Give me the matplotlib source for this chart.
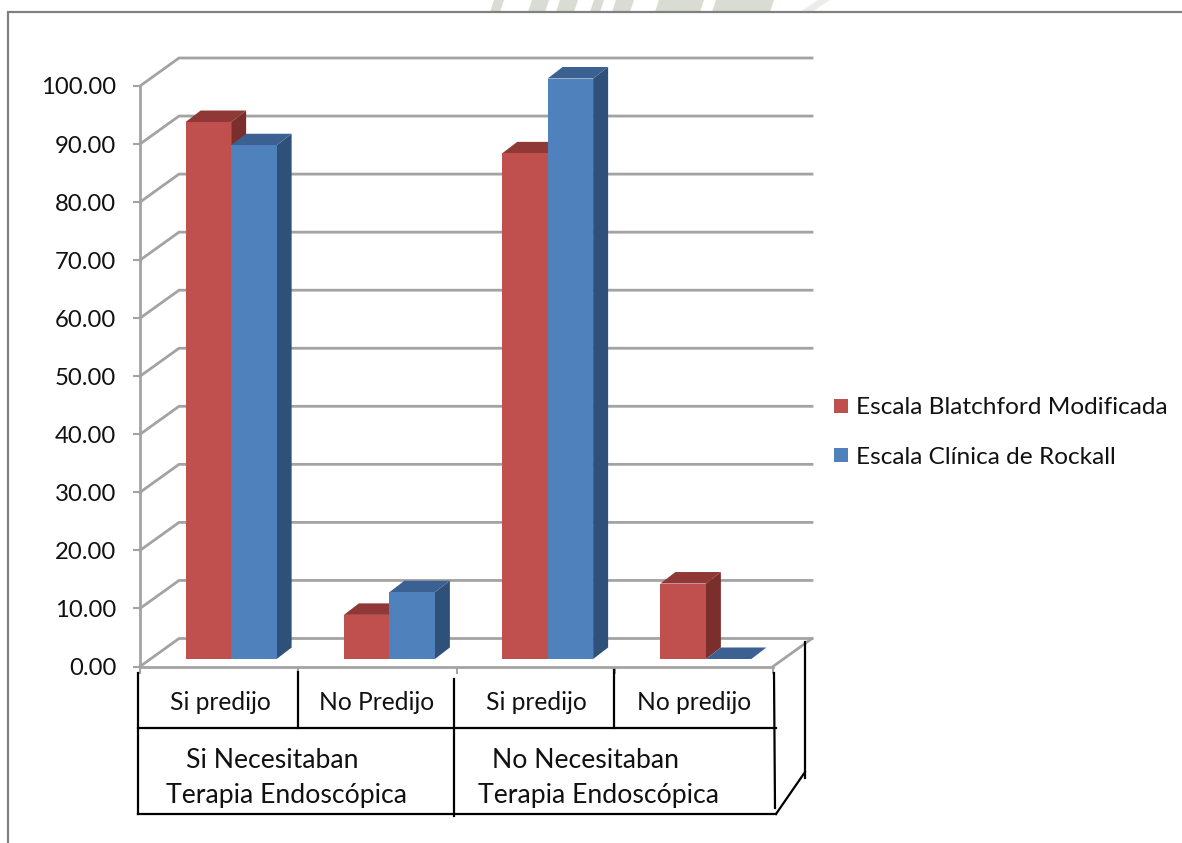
import matplotlib
matplotlib.use("Agg")
import matplotlib.pyplot as plt
from matplotlib.ticker import FormatStrFormatter

plt.rcParams["font.family"] = ["Lato", "DejaVu Sans"]

sub_labels = ["Si predijo", "No Predijo", "Si predijo", "No predijo"]
group_labels = ["Si Necesitaban\nTerapia Endoscópica", "No Necesitaban\nTerapia Endoscópica"]
series_names = ["Escala Blatchford Modificada", "Escala Clínica de Rockall"]
blatchford = [92.5, 7.6, 87.1, 13.0]
rockall = [88.5, 11.5, 100.0, 0.0]
y_ticks = [0, 10, 20, 30, 40, 50, 60, 70, 80, 90, 100]

W, H = 1182, 843
GREY = "#a3a3a3"
front = ["#c0504d", "#4f81bd"]
top = ["#8f3836", "#3a6191"]
side = ["#7b2f2d", "#2f5078"]

fig = plt.figure(figsize=(W / 100, H / 100), dpi=100)

# main axes = front plane of the 3d box
L, R, Y0, Y100 = 140, 773, 666.5, 86
ax = fig.add_axes([L / W, 1 - Y0 / H, (R - L) / W, (Y0 - Y100) / H])
ax.set_xlim(0, 4)
ax.set_ylim(0, 100)
ax.patch.set_alpha(0)

px = 4 / (R - L)
py = 100 / (Y0 - Y100)

# back wall
back_x = 39 * px
back_y = 28 * py
for v in y_ticks:
    ax.plot([0, back_x, 4 + back_x], [v, v + back_y, v + back_y], color=GREY, lw=2, zorder=1,
            clip_on=False, solid_joinstyle="miter")
ax.plot([4, 4 + back_x], [0, back_y], color=GREY, lw=2, zorder=1, clip_on=False)

# bars
bar_w = 45.5 * px
off_x = 12 * px
off_y = 7.5 * py
dx = 15 * px
dy = 11.5 * py
for s, values in enumerate([blatchford, rockall]):
    for i, v in enumerate(values):
        x0 = i + 0.5 + off_x + (s - 1) * bar_w
        x1 = x0 + bar_w
        b = off_y
        t = off_y + v
        ax.fill([x1, x1 + dx, x1 + dx, x1], [b, b + dy, t + dy, t], color=side[s], lw=0, zorder=3 + s,
                clip_on=False)
        ax.fill([x0, x1, x1 + dx, x0 + dx], [t, t, t + dy, t + dy], color=top[s], lw=0, zorder=3 + s,
                clip_on=False)
        ax.bar(x0, v, width=bar_w, bottom=b, align="edge", color=front[s], lw=0, zorder=3 + s,
               clip_on=False)

for name in ["top", "right"]:
    ax.spines[name].set_visible(False)
for name in ["left", "bottom"]:
    ax.spines[name].set_color(GREY)
    ax.spines[name].set_linewidth(2)
    ax.spines[name].set_zorder(2)

ax.set_yticks(y_ticks)
ax.yaxis.set_major_formatter(FormatStrFormatter("%.2f"))
ax.tick_params(axis="y", length=5, width=1.5, color=GREY, labelsize=17.2, pad=12, labelcolor="#111111")
ax.set_xticks([0, 1, 2, 3, 4])
ax.set_xticklabels([])
ax.tick_params(axis="x", length=5, width=1.5, color=GREY)

# overlay in pixels for the hand drawn table and the outer frame
ov = fig.add_axes([0, 0, 1, 1])
ov.set_xlim(0, W)
ov.set_ylim(H, 0)
ov.axis("off")
ov.patch.set_alpha(0)

# bit of the page watermark above the frame
for a, b in [(490, 500), (528, 545), (556, 574), (590, 600), (612, 630), (655, 700), (712, 770)]:
    ov.fill([a, b, b + 4, a + 4], [12, 12, 0, 0], color="#d8dcd2", lw=0)
ov.fill([800, 812, 830, 818], [12, 12, 0, 0], color="#ececea", lw=0)

ov.plot([8, 8, W], [H, 12, 12], color="#808080", lw=1.6, solid_joinstyle="miter")

table_lines = [
    ([138, 138], [673, 814]),
    ([138, 776], [814, 814]),
    ([138, 776], [728, 728]),
    ([298, 298], [672, 728]),
    ([454, 454], [679, 816]),
    ([614, 614], [670, 728]),
    ([774, 775], [673, 808]),
    ([776, 805], [814, 772]),
    ([805, 805], [642, 778]),
]
for xs, ys in table_lines:
    ov.plot(xs, ys, color="black", lw=1.6)

for x, label in zip([220, 377, 536, 694], sub_labels):
    ov.text(x, 702, label, ha="center", va="center", fontsize=17.7, color="#111111")

for x, label in zip([(272, 287), (586, 599)], group_labels):
    a, b = label.split("\n")
    ov.text(x[0], 760, a, ha="center", va="center", fontsize=19.2, color="#111111")
    ov.text(x[1], 796, b, ha="center", va="center", fontsize=19.2, color="#111111")

# legend
for y, name, c in zip([406, 455], series_names, front):
    ov.fill([834, 848, 848, 834], [y - 7, y - 7, y + 7, y + 7], color=c, lw=0)
    ov.text(856, y + 2, name, ha="left", va="center", fontsize=17.6, color="#111111")

fig.savefig("out.png", dpi=100, facecolor="white")
plt.close(fig)
